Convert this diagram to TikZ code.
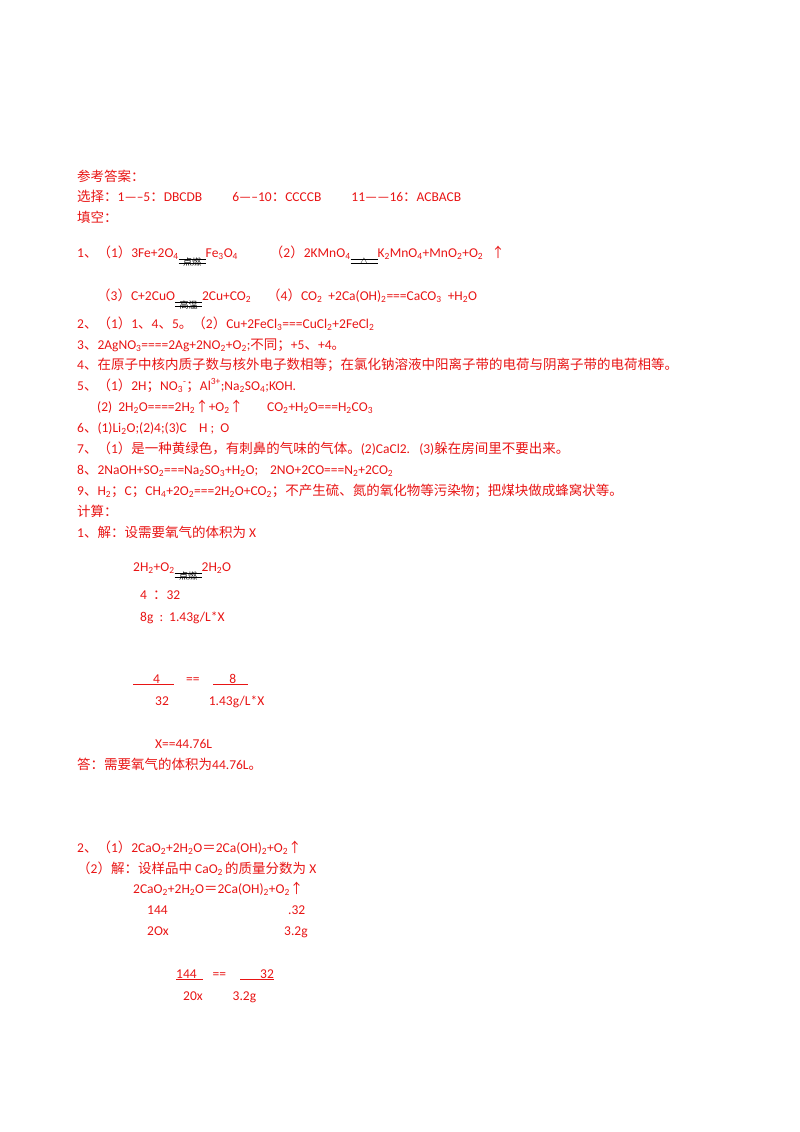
\documentclass[tikz,border=0pt]{standalone}
\usepackage{fontspec}
\setmainfont{Carlito}
\newfontfamily\cjk{Noto Sans CJK SC}
\definecolor{ansred}{RGB}{232,20,20}
\newcommand\z[1]{{\cjk #1}}
\newcommand\s[1]{\textsubscript{#1}}
\newcommand\cnd[1]{\raisebox{-0.15em}{\shortstack{{\color{black}\small\cjk #1}\\[-0.9ex]{\color{black}\rule{2em}{0.5pt}}\\[-1.25ex]{\color{black}\rule{2em}{0.5pt}}}}}
\tikzset{t/.style={anchor=base west,inner sep=0,text=ansred,font=\fontsize{13.5}{16}\selectfont}}
\begin{document}
\begin{tikzpicture}[x=1pt,y=-1pt]
\useasboundingbox (0,0) rectangle (800,1132);
\node[t] (a0) at (77,181) {\z{参考答案：}};
\node[t] (a1) at (77,201) {\z{选择：}1-----5\z{：}DBCDB\hspace{30pt}6-----10\z{：}CCCCB\hspace{30pt}11------16\z{：}ACBACB};
\node[t] (a2) at (77,222) {\z{填空：}};
\node[t] (a3) at (77,257) {1\z{、（}1\z{）}3Fe+2O\s4\cnd{点燃}Fe\s3O\s4\hspace{32pt}\z{（}2\z{）}2KMnO\s4\cnd{\textup{$\triangle$}}K\s2MnO\s4+MnO\s2+O\s2\hspace{8pt}\z{↑}};
\node[t] (a4) at (97,300) {\z{（}3\z{）}C+2CuO\cnd{高温}2Cu+CO\s2\hspace{16pt}\z{（}4\z{）}CO\s2\ \ +2Ca(OH)\s2===CaCO\s3\ \ +H\s2O};
\node[t] (a5) at (77,328) {2\z{、（}1\z{）}1\z{、}4\z{、}5\z{。（}2\z{）}Cu+2FeCl\s3===CuCl\s2+2FeCl\s2};
\node[t] (a6) at (77,349) {3\z{、}2AgNO\s3====2Ag+2NO\s2+O\s2;\z{不同；}+5\z{、}+4\z{。}};
\node[t] (a7) at (77,369) {4\z{、在原子中核内质子数与核外电子数相等；在氯化钠溶液中阳离子带的电荷与阴离子带的电荷相等。}};
\node[t] (a8) at (77,390) {5\z{、（}1\z{）}2H\z{；}NO\s3\textsuperscript{-}\z{；}Al\textsuperscript{3+};Na\s2SO\s4;KOH.};
\node[t] (a9) at (97,411) {(2)\ \ 2H\s2O====2H\s2\z{↑}+O\s2\z{↑}\hspace{24pt}CO\s2+H\s2O===H\s2CO\s3};
\node[t] (a10) at (77,432) {6\z{、}(1)Li\s2O;(2)4;(3)C\ \ \ \ H\ ;\ \ O};
\node[t] (a11) at (77,453) {7\z{、（}1\z{）是一种黄绿色，有刺鼻的气味的气体。}(2)CaCl2.\ \ \ (3)\z{躲在房间里不要出来。}};
\node[t] (a12) at (77,474) {8\z{、}2NaOH+SO\s2===Na\s2SO\s3+H\s2O;\hspace{12pt}2NO+2CO===N\s2+2CO\s2};
\node[t] (a13) at (77,495) {9\z{、}H\s2\z{；}C\z{；}CH\s4+2O\s2===2H\s2O+CO\s2\z{；不产生硫、氮的氧化物等污染物；把煤块做成蜂窝状等。}};
\node[t] (a14) at (77,516) {\z{计算：}};
\node[t] (a15) at (77,537) {1\z{、解：设需要氧气的体积为} X};
\node[t] (a16) at (133,571) {2H\s2+O\s2\cnd{点燃}2H\s2O};
\node[t] (a17) at (140,599) {4\ \ \z{：}32};
\node[t] (a18) at (140,621) {8g\ \ :\ \ 1.43g/L*X};
\node[t] (a19) at (133,683) {\underline{\hspace{20pt}4\hspace{14pt}}\hspace{12pt}==\hspace{14pt}\underline{\hspace{16pt}8\hspace{12pt}}};
\node[t] (a20) at (155,705) {32\hspace{40pt}1.43g/L*X};
\node[t] (a21) at (155,748) {X==44.76L};
\node[t] (a22) at (77,769) {\z{答：需要氧气的体积为}44.76L\z{。}};
\node[t] (a23) at (77,852) {2\z{、（}1\z{）}2CaO\s2+2H\s2O\z{＝}2Ca(OH)\s2+O\s2\z{↑}};
\node[t] (a24) at (77,873) {\z{（}2\z{）解：设样品中} CaO\s2\,\z{的质量分数为} X};
\node[t] (a25) at (133,893) {2CaO\s2+2H\s2O\z{＝}2Ca(OH)\s2+O\s2\z{↑}};
\node[t] (a26) at (147,914) {144};
\node[t] (a27) at (288,914) {.32};
\node[t] (a28) at (147,935) {2Ox};
\node[t] (a29) at (284,935) {3.2g};
\node[t] (a30) at (176,978) {\underline{144\hspace{6pt}}\hspace{10pt}==\hspace{14pt}\underline{\hspace{20pt}32}};
\node[t] (a31) at (183,1000) {20x\hspace{30pt}3.2g};
\end{tikzpicture}
\end{document}
